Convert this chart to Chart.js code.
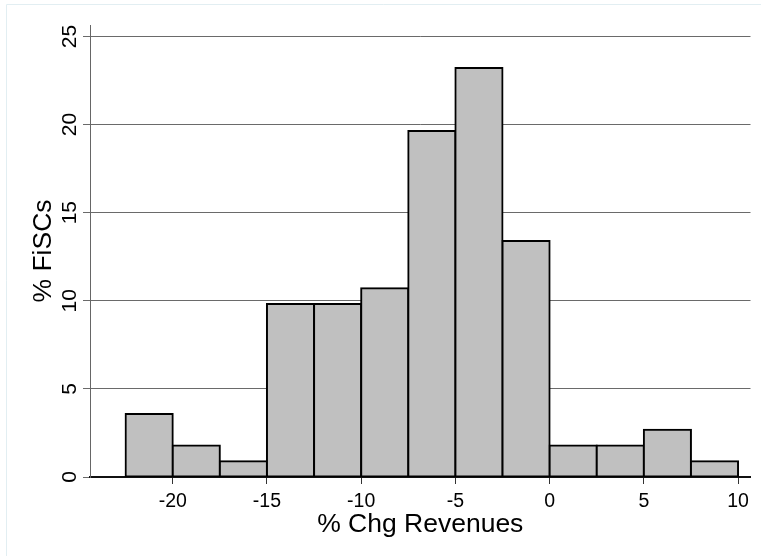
<!DOCTYPE html>
<html>
<head>
<meta charset="utf-8">
<script src="https://cdn.jsdelivr.net/npm/chart.js@4.4.1/dist/chart.umd.min.js"></script>
<style>
  html, body { margin: 0; padding: 0; background: #fff; overflow: hidden; }
  canvas { display: block; }
</style>
</head>
<body>
<canvas id="histChart" width="761" height="556"></canvas>
<script>
// histogram bins are 2.5 wide, keyed by bin centre
const binCenters = [-21.25, -18.75, -16.25, -13.75, -11.25, -8.75, -6.25, -3.75, -1.25, 1.25, 3.75, 6.25, 8.75];
const pctFiscs = [3.57, 1.79, 0.89, 9.82, 9.82, 10.71, 19.64, 23.21, 13.39, 1.79, 1.79, 2.68, 0.89];
const xTickValues = [-20, -15, -10, -5, 0, 5, 10];
const yTickValues = [0, 5, 10, 15, 20, 25];
const xTitle = '% Chg Revenues';
const yTitle = '% FiSCs';

const FONT = '"Liberation Sans", Arial, Helvetica, sans-serif';

// background frame + all the text (stata style, y labels rotated)
const stataText = {
  id: 'stataText',
  beforeDraw(chart) {
    const c = chart.ctx;
    c.save();
    c.fillStyle = '#fff';
    c.fillRect(0, 0, chart.width, chart.height);
    c.strokeStyle = '#e2eef2';
    c.lineWidth = 1;
    c.beginPath();
    c.moveTo(6.5, chart.height);
    c.lineTo(6.5, 4.5);
    c.lineTo(chart.width, 4.5);
    c.stroke();
    c.restore();
  },
  afterDraw(chart) {
    const c = chart.ctx;
    const xs = chart.scales.x, ys = chart.scales.y, area = chart.chartArea;
    c.save();
    c.fillStyle = '#000';
    c.textAlign = 'center';
    c.textBaseline = 'alphabetic';

    c.font = '19.5px ' + FONT;
    xTickValues.forEach(v => c.fillText(String(v), xs.getPixelForValue(v), 506.5));

    c.font = '26.5px ' + FONT;
    c.fillText(xTitle, (area.left + area.right) / 2, 531.5);

    c.font = '21px ' + FONT;
    yTickValues.forEach(v => {
      c.save();
      c.translate(75.5, ys.getPixelForValue(v));
      c.rotate(-Math.PI / 2);
      c.fillText(String(v), 0, 0);
      c.restore();
    });

    c.font = '26.5px ' + FONT;
    c.save();
    c.translate(51, (area.top + area.bottom) / 2);
    c.rotate(-Math.PI / 2);
    c.fillText(yTitle, 0, 0);
    c.restore();

    c.restore();
  }
};

new Chart(document.getElementById('histChart'), {
  type: 'bar',
  data: {
    datasets: [{
      data: binCenters.map((x, i) => ({ x: x, y: pctFiscs[i] })),
      backgroundColor: '#c0c0c0',
      borderColor: '#000',
      borderWidth: 2,
      borderSkipped: false,
      inflateAmount: 1,
      barPercentage: 1,
      categoryPercentage: 1
    }]
  },
  options: {
    responsive: false,
    animation: false,
    devicePixelRatio: 1,
    layout: { padding: { left: 0, top: 25, right: 10.5, bottom: 0 } },
    plugins: {
      legend: { display: false },
      tooltip: { enabled: false }
    },
    scales: {
      x: {
        type: 'linear',
        min: -24.39,
        max: 10.66,
        offset: false,
        afterBuildTicks: s => { s.ticks = xTickValues.map(v => ({ value: v })); },
        afterFit: s => { s.height = 79; },
        ticks: { display: false },
        grid: { display: true, drawOnChartArea: false, drawTicks: true, tickLength: 7, color: '#333', offset: false },
        border: { display: true, color: '#111', width: 2 }
      },
      y: {
        type: 'linear',
        min: 0,
        max: 25.65,
        afterBuildTicks: s => { s.ticks = yTickValues.map(v => ({ value: v })); },
        afterFit: s => { s.width = 90; },
        ticks: { display: false },
        grid: {
          color: ctx => (ctx.tick && ctx.tick.value === 0) ? 'rgba(0,0,0,0)' : '#6a6a6a',
          tickColor: '#6a6a6a',
          lineWidth: 1,
          tickLength: 7,
          drawTicks: true
        },
        border: { display: true, color: '#666', width: 1 }
      }
    }
  },
  plugins: [stataText]
});
</script>
</body>
</html>
